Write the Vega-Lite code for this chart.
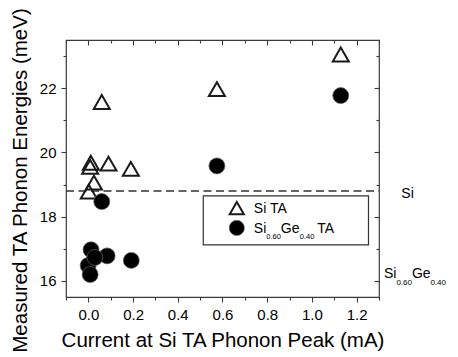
{
  "$schema": "https://vega.github.io/schema/vega-lite/v6.json",
  "width": 313,
  "height": 257,
  "autosize": {"type": "none"},
  "padding": {"left": 66, "top": 40, "right": 79, "bottom": 60},
  "background": "white",
  "config": {
    "font": "Liberation Sans",
    "view": {"stroke": "#3a3a3a", "strokeWidth": 1.2},
    "axis": {
      "grid": false,
      "domain": false,
      "tickColor": "#3a3a3a",
      "tickWidth": 1.1,
      "labelFont": "Liberation Sans",
      "titleFont": "Liberation Sans",
      "labelColor": "black",
      "titleColor": "black",
      "titleFontWeight": "normal"
    }
  },
  "datasets": {
    "points": [
      {"series": "Si TA", "current": 1.129, "energy": 23.05},
      {"series": "Si TA", "current": 0.575, "energy": 21.97},
      {"series": "Si TA", "current": 0.06, "energy": 21.57},
      {"series": "Si TA", "current": 0.011, "energy": 19.68},
      {"series": "Si TA", "current": 0.008, "energy": 19.55},
      {"series": "Si TA", "current": 0.09, "energy": 19.65},
      {"series": "Si TA", "current": 0.19, "energy": 19.49},
      {"series": "Si TA", "current": 0.025, "energy": 19.06},
      {"series": "Si TA", "current": 0.002, "energy": 18.78},
      {"series": "Si0.60Ge0.40 TA", "current": 1.129, "energy": 21.77},
      {"series": "Si0.60Ge0.40 TA", "current": 0.575, "energy": 19.58},
      {"series": "Si0.60Ge0.40 TA", "current": 0.06, "energy": 18.47},
      {"series": "Si0.60Ge0.40 TA", "current": 0.012, "energy": 16.97},
      {"series": "Si0.60Ge0.40 TA", "current": 0.084, "energy": 16.78},
      {"series": "Si0.60Ge0.40 TA", "current": 0.192, "energy": 16.64},
      {"series": "Si0.60Ge0.40 TA", "current": -0.001, "energy": 16.48},
      {"series": "Si0.60Ge0.40 TA", "current": 0.008, "energy": 16.2},
      {"series": "Si0.60Ge0.40 TA", "current": 0.029, "energy": 16.73}
    ],
    "legend": [
      {"series": "Si TA", "lx": 0.664, "ly": 18.27},
      {"series": "Si0.60Ge0.40 TA", "lx": 0.664, "ly": 17.65}
    ],
    "box": [{"x1": 0.514, "x2": 1.253, "y1": 18.645, "y2": 17.12}],
    "ref": [{"energy": 18.8, "from": -0.1, "to": 1.3}],
    "ann": [
      {"name": "Si", "ax": 1.40, "ay": 18.8},
      {"name": "Si0.60Ge0.40", "ax": 1.322, "ay": 16.08}
    ]
  },
  "layer": [
    {
      "data": {"name": "ref"},
      "mark": {"type": "rule", "strokeDash": [8, 4.5], "stroke": "#333333", "strokeWidth": 1.6},
      "encoding": {
        "x": {"field": "from", "type": "quantitative", "scale": {"domain": [-0.1, 1.3], "nice": false, "zero": false},
              "axis": {"orient": "top", "values": [0, 0.2, 0.4, 0.6, 0.8, 1.0, 1.2], "tickSize": -5, "labels": false, "title": null}},
        "x2": {"field": "to"},
        "y": {"field": "energy", "type": "quantitative", "scale": {"domain": [15.5, 23.5], "nice": false, "zero": false},
              "axis": {"orient": "right", "values": [16, 18, 20, 22], "tickSize": -5, "labels": false, "title": null}}
      }
    },
    {
      "data": {"name": "box"},
      "mark": {"type": "rect", "fill": "white", "stroke": "#333333", "strokeWidth": 1.2},
      "encoding": {
        "x": {"field": "x1", "type": "quantitative",
              "axis": {"orient": "top", "values": [-0.1, 0.1, 0.3, 0.5, 0.7, 0.9, 1.1, 1.3], "tickSize": -3, "labels": false, "title": null}},
        "x2": {"field": "x2"},
        "y": {"field": "y1", "type": "quantitative",
              "axis": {"orient": "right", "values": [17, 19, 21, 23], "tickSize": -3, "labels": false, "title": null}},
        "y2": {"field": "y2"}
      }
    },
    {
      "data": {"name": "points"},
      "transform": [{"filter": "datum.series === 'Si TA'"}],
      "mark": {"type": "point", "shape": "triangle-up", "size": 256, "filled": false, "stroke": "#1a1a1a", "strokeWidth": 2, "opacity": 1},
      "encoding": {
        "x": {"field": "current", "type": "quantitative",
              "axis": {"orient": "bottom", "values": [0, 0.2, 0.4, 0.6, 0.8, 1.0, 1.2], "format": ".1f", "tickSize": 5,
                       "labelFontSize": 15, "labelPadding": 5, "title": "Current at Si TA Phonon Peak (mA)", "titleFontSize": 20.5, "titlePadding": 8}},
        "y": {"field": "energy", "type": "quantitative",
              "axis": {"orient": "left", "values": [16, 18, 20, 22], "tickSize": 5,
                       "labelFontSize": 15, "labelPadding": 5, "title": "Measured TA Phonon Energies (meV)", "titleFontSize": 20.5, "titlePadding": 9, "titleY": 140}}
      }
    },
    {
      "data": {"name": "points"},
      "transform": [{"filter": "datum.series !== 'Si TA'"}],
      "mark": {"type": "point", "shape": "circle", "size": 256, "filled": true, "fill": "black", "stroke": "#666666", "strokeWidth": 0.7, "opacity": 1},
      "encoding": {
        "x": {"field": "current", "type": "quantitative",
              "axis": {"orient": "bottom", "values": [-0.1, 0.1, 0.3, 0.5, 0.7, 0.9, 1.1, 1.3], "tickSize": 3, "labels": false, "title": null}},
        "y": {"field": "energy", "type": "quantitative",
              "axis": {"orient": "left", "values": [17, 19, 21, 23], "tickSize": 3, "labels": false, "title": null}}
      }
    },
    {
      "data": {"name": "legend"},
      "transform": [{"filter": "datum.series === 'Si TA'"}],
      "mark": {"type": "point", "shape": "triangle-up", "size": 200, "filled": false, "stroke": "#1a1a1a", "strokeWidth": 2, "opacity": 1},
      "encoding": {
        "x": {"field": "lx", "type": "quantitative", "axis": null},
        "y": {"field": "ly", "type": "quantitative", "axis": null}
      }
    },
    {
      "data": {"name": "legend"},
      "transform": [{"filter": "datum.series !== 'Si TA'"}],
      "mark": {"type": "point", "shape": "circle", "size": 230, "filled": true, "fill": "black", "stroke": "#666666", "strokeWidth": 0.7, "opacity": 1},
      "encoding": {
        "x": {"field": "lx", "type": "quantitative", "axis": null},
        "y": {"field": "ly", "type": "quantitative", "axis": null}
      }
    },
    {
      "data": {"name": "legend"},
      "transform": [{"filter": "datum.series === 'Si TA'"}],
      "mark": {"type": "text", "align": "left", "baseline": "alphabetic", "fontSize": 14, "dx": 17, "dy": 5, "color": "black"},
      "encoding": {
        "x": {"field": "lx", "type": "quantitative", "axis": null},
        "y": {"field": "ly", "type": "quantitative", "axis": null},
        "text": {"field": "series"}
      }
    },
    {
      "data": {"name": "legend"},
      "transform": [{"filter": "datum.series !== 'Si TA'"}],
      "mark": {"type": "text", "align": "left", "baseline": "alphabetic", "fontSize": 14, "dx": 17, "dy": 5, "color": "black", "text": "Si"},
      "encoding": {
        "x": {"field": "lx", "type": "quantitative", "axis": null},
        "y": {"field": "ly", "type": "quantitative", "axis": null}
      }
    },
    {
      "data": {"name": "legend"},
      "transform": [{"filter": "datum.series !== 'Si TA'"}],
      "mark": {"type": "text", "align": "left", "baseline": "alphabetic", "fontSize": 7.5, "dx": 29.5, "dy": 11.5, "color": "black", "text": "0.60"},
      "encoding": {
        "x": {"field": "lx", "type": "quantitative", "axis": null},
        "y": {"field": "ly", "type": "quantitative", "axis": null}
      }
    },
    {
      "data": {"name": "legend"},
      "transform": [{"filter": "datum.series !== 'Si TA'"}],
      "mark": {"type": "text", "align": "left", "baseline": "alphabetic", "fontSize": 14, "dx": 44, "dy": 5, "color": "black", "text": "Ge"},
      "encoding": {
        "x": {"field": "lx", "type": "quantitative", "axis": null},
        "y": {"field": "ly", "type": "quantitative", "axis": null}
      }
    },
    {
      "data": {"name": "legend"},
      "transform": [{"filter": "datum.series !== 'Si TA'"}],
      "mark": {"type": "text", "align": "left", "baseline": "alphabetic", "fontSize": 7.5, "dx": 63, "dy": 11.5, "color": "black", "text": "0.40"},
      "encoding": {
        "x": {"field": "lx", "type": "quantitative", "axis": null},
        "y": {"field": "ly", "type": "quantitative", "axis": null}
      }
    },
    {
      "data": {"name": "legend"},
      "transform": [{"filter": "datum.series !== 'Si TA'"}],
      "mark": {"type": "text", "align": "left", "baseline": "alphabetic", "fontSize": 14, "dx": 80.5, "dy": 5, "color": "black", "text": "TA"},
      "encoding": {
        "x": {"field": "lx", "type": "quantitative", "axis": null},
        "y": {"field": "ly", "type": "quantitative", "axis": null}
      }
    },
    {
      "data": {"name": "ann"},
      "transform": [{"filter": "datum.name === 'Si'"}],
      "mark": {"type": "text", "align": "left", "baseline": "alphabetic", "fontSize": 14, "dy": 7, "color": "black"},
      "encoding": {
        "x": {"field": "ax", "type": "quantitative", "axis": null},
        "y": {"field": "ay", "type": "quantitative", "axis": null},
        "text": {"field": "name"}
      }
    },
    {
      "data": {"name": "ann"},
      "transform": [{"filter": "datum.name !== 'Si'"}],
      "mark": {"type": "text", "align": "left", "baseline": "alphabetic", "fontSize": 14, "color": "black", "text": "Si"},
      "encoding": {
        "x": {"field": "ax", "type": "quantitative", "axis": null},
        "y": {"field": "ay", "type": "quantitative", "axis": null}
      }
    },
    {
      "data": {"name": "ann"},
      "transform": [{"filter": "datum.name !== 'Si'"}],
      "mark": {"type": "text", "align": "left", "baseline": "alphabetic", "fontSize": 8, "dx": 12.5, "dy": 7, "color": "black", "text": "0.60"},
      "encoding": {
        "x": {"field": "ax", "type": "quantitative", "axis": null},
        "y": {"field": "ay", "type": "quantitative", "axis": null}
      }
    },
    {
      "data": {"name": "ann"},
      "transform": [{"filter": "datum.name !== 'Si'"}],
      "mark": {"type": "text", "align": "left", "baseline": "alphabetic", "fontSize": 14, "dx": 28, "color": "black", "text": "Ge"},
      "encoding": {
        "x": {"field": "ax", "type": "quantitative", "axis": null},
        "y": {"field": "ay", "type": "quantitative", "axis": null}
      }
    },
    {
      "data": {"name": "ann"},
      "transform": [{"filter": "datum.name !== 'Si'"}],
      "mark": {"type": "text", "align": "left", "baseline": "alphabetic", "fontSize": 8, "dx": 46.5, "dy": 7, "color": "black", "text": "0.40"},
      "encoding": {
        "x": {"field": "ax", "type": "quantitative", "axis": null},
        "y": {"field": "ay", "type": "quantitative", "axis": null}
      }
    }
  ],
  "resolve": {"axis": {"x": "independent", "y": "independent"}}
}
